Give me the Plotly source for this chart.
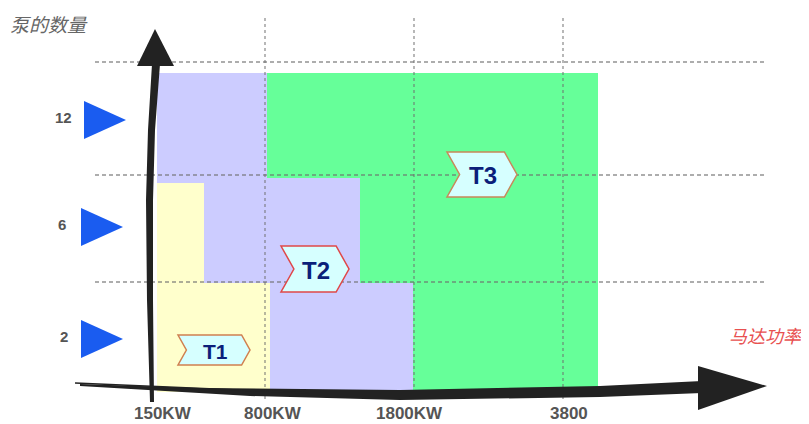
import plotly.graph_objects as go

# ---- data (schematic coordinates, x to the right, y downward) ----
tick_labels = ["150KW", "800KW", "1800KW", "3800"]
tick_label_x = [163, 273, 409, 569]
grid_x = [265, 414, 563]
grid_y = [62, 175, 282]

count_labels = ["12", "6", "2"]
count_y = [120, 227, 339]
count_label_x = [63, 62, 64]

# tiers: list of rectangles (x0, x1, y0, y1)
tier_names = ["T3", "T2", "T1"]
tier_colors = ["#66FF99", "#CCCCFF", "#FFFFCC"]
tier_rects = [
    [(267, 598, 73, 178), (360, 598, 178, 283), (413, 598, 283, 392)],
    [(157, 267, 73, 183), (204, 360, 178, 283), (270, 413, 283, 392)],
    [(157, 204, 183, 392), (204, 270, 283, 392)],
]

# chevron labels: (left, right, top, bottom)
chev_names = ["T1", "T2", "T3"]
chev_boxes = [(178, 250, 335, 365), (281, 349, 246, 292), (447, 517, 152, 197)]
chev_edge = ["#D08050", "#E04848", "#C8885A"]
chev_font = [21, 24, 24]

fig = go.Figure()

for rects, col, name in zip(tier_rects, tier_colors, tier_names):
    xs, ys = [], []
    for (x0, x1, y0, y1) in rects:
        xs += [x0, x1, x1, x0, x0, None]
        ys += [y0, y0, y1, y1, y0, None]
    fig.add_trace(go.Scatter(x=xs, y=ys, fill="toself", fillcolor=col, mode="lines",
                             line=dict(width=0, color=col), hoverinfo="skip",
                             showlegend=False, name=name))

shapes = []
# dashed grid
for gx in grid_x:
    shapes.append(dict(type="line", x0=gx, x1=gx, y0=18, y1=400, xref="x", yref="y",
                       line=dict(color="rgba(110,110,110,0.75)", width=1.3, dash="3px,3px")))
for gy in grid_y:
    shapes.append(dict(type="line", x0=95, x1=765, y0=gy, y1=gy, xref="x", yref="y",
                       line=dict(color="rgba(110,110,110,0.75)", width=1.3, dash="4px,3px")))

# y axis arrow
shapes.append(dict(type="path", xref="x", yref="y",
                   path="M152,64 L148,130 L146,200 L147,300 L150,402 L154,402 L153,300 L153,200 L155,130 L160,64 Z",
                   fillcolor="#222222", line=dict(width=0)))
shapes.append(dict(type="path", xref="x", yref="y",
                   path="M137,66 L174,66 L155,29 Z", fillcolor="#222222", line=dict(width=0)))
# x axis arrow
shapes.append(dict(type="path", xref="x", yref="y",
                   path="M80,384 L200,388 L400,390 L600,386 L702,381 L702,393 L600,397 L400,400 L250,396 L80,386 Z",
                   fillcolor="#222222", line=dict(width=0)))
shapes.append(dict(type="path", xref="x", yref="y",
                   path="M698,366 L767,386 L698,410 Z", fillcolor="#222222", line=dict(width=0)))
shapes.append(dict(type="line", xref="x", yref="y", x0=75, y0=383, x1=310, y1=393,
                   line=dict(color="#222222", width=1.5)))

# blue triangles
for cy, lx in zip(count_y, count_label_x):
    x0 = 84 if cy < 150 else 81
    shapes.append(dict(type="path", xref="x", yref="y",
                       path=f"M{x0},{cy-19} L{x0+42},{cy} L{x0},{cy+19} Z",
                       fillcolor="#1A5CF0", line=dict(width=0)))

# chevrons
for (l, r, t, b), ec in zip(chev_boxes, chev_edge):
    m = (t + b) / 2
    notch = (b - t) * 0.28
    tip = (b - t) * 0.28
    shapes.append(dict(type="path", xref="x", yref="y",
                       path=f"M{l},{t} L{r-tip},{t} L{r},{m} L{r-tip},{b} L{l},{b} L{l+notch},{m} Z",
                       fillcolor="#D6FFFF", line=dict(color=ec, width=1.5)))

annotations = []
for lab, x in zip(tick_labels, tick_label_x):
    annotations.append(dict(x=x, y=413, xref="x", yref="y", text=f"<b>{lab}</b>", showarrow=False,
                            font=dict(family="Liberation Sans, Arial", size=17, color="#555555")))
for lab, x, y in zip(count_labels, count_label_x, count_y):
    annotations.append(dict(x=x, y=y - 3, xref="x", yref="y", text=f"<b>{lab}</b>", showarrow=False,
                            font=dict(family="Liberation Sans, Arial", size=15, color="#555555")))
for name, (l, r, t, b), fs in zip(chev_names, chev_boxes, chev_font):
    annotations.append(dict(x=(l + r) / 2 + 1, y=(t + b) / 2 + 1, xref="x", yref="y",
                            text=f"<b>{name}</b>", showarrow=False,
                            font=dict(family="Liberation Sans, Arial", size=fs, color="#0B1F7A")))
annotations.append(dict(x=49, y=23, xref="x", yref="y", text="<i>泵的数量</i>", showarrow=False,
                        font=dict(family="Noto Sans CJK SC", size=19, color="#666666")))
annotations.append(dict(x=766, y=335, xref="x", yref="y", text="<i>马达功率</i>", showarrow=False,
                        font=dict(family="Noto Sans CJK SC", size=18, color="#E85050")))

# the page body has an 8px margin, so the figure covers window pixels 8..809 / 8..424
fig.update_layout(
    width=801, height=416, margin=dict(l=0, r=0, t=0, b=0),
    paper_bgcolor="white", plot_bgcolor="white",
    xaxis=dict(range=[8, 809], visible=False, fixedrange=True),
    yaxis=dict(range=[424, 8], visible=False, fixedrange=True),
    shapes=shapes, annotations=annotations, showlegend=False,
)

fig.write_html("out.html")
